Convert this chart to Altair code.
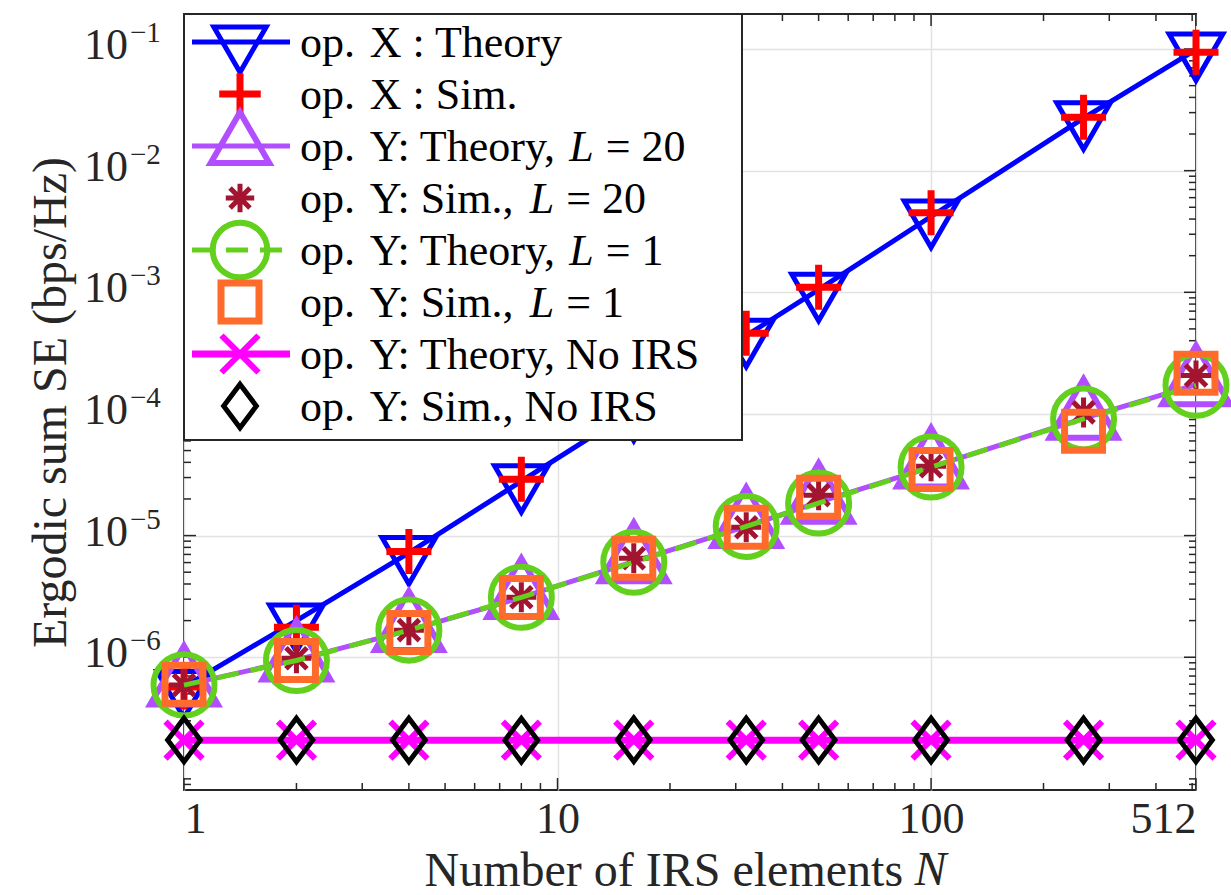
import altair as alt
import pandas as pd

# ---------------- data ----------------
N = [1, 2, 4, 8, 16, 32, 50, 100, 256, 512]

x_theory = [5.7e-7, 2.0e-6, 7.2e-6, 2.8e-5, 1.08e-4, 4.4e-4, 1.05e-3, 4.2e-3, 2.7e-2, 9.9e-2]
x_sim = [5.7e-7, 1.76e-6, 7.4e-6, 2.9e-5, 1.15e-4, 4.6e-4, 1.1e-3, 4.5e-3, 2.75e-2, 9.4e-2]
y20_theory = [5.9e-7, 9.5e-7, 1.66e-6, 3.1e-6, 6.1e-6, 1.19e-5, 1.88e-5, 3.66e-5, 9.2e-5, 1.74e-4]
y20_sim = [5.9e-7, 9.8e-7, 1.67e-6, 3.11e-6, 6.5e-6, 1.17e-5, 2.15e-5, 3.71e-5, 1.03e-4, 2.07e-4]
y1_theory = [5.9e-7, 9.4e-7, 1.67e-6, 3.11e-6, 6.04e-6, 1.19e-5, 1.85e-5, 3.66e-5, 9.1e-5, 1.72e-4]
y1_sim = [6.0e-7, 9.4e-7, 1.6e-6, 3.1e-6, 6.5e-6, 1.17e-5, 2.07e-5, 3.5e-5, 7.2e-5, 2.16e-4]
noirs_theory = [2.08e-7, 2.08e-7, 2.08e-7, 2.08e-7, 2.08e-7, 2.08e-7, 2.08e-7, 2.08e-7, 2.08e-7, 2.08e-7]
noirs_sim = [2.09e-7, 2.09e-7, 2.09e-7, 2.08e-7, 2.1e-7, 2.09e-7, 2.09e-7, 2.09e-7, 2.09e-7, 2.09e-7]

x_tick_labels = [1, 10, 100, 512]
x_minor = [2, 3, 4, 5, 6, 7, 8, 9, 20, 30, 40, 50, 60, 70, 80, 90, 200, 300, 400, 500]
y_decades = [1e-6, 1e-5, 1e-4, 1e-3, 1e-2, 1e-1]
y_exponents = ["\u22126", "\u22125", "\u22124", "\u22123", "\u22122", "\u22121"]
y_minor = [k * 10.0 ** e for e in range(-8, 0) for k in range(1, 10)
           if 8.1e-8 <= k * 10.0 ** e <= 0.194 and not (k == 1 and e >= -6)]

SP = "\u2004"  # spacing after "op."
legend_labels = [
    ("op." + SP + "X : Theory", None, None),
    ("op." + SP + "X : Sim.", None, None),
    ("op." + SP + "Y: Theory, ", "L", "=\u00a020"),
    ("op." + SP + "Y: Sim., ", "L", "=\u00a020"),
    ("op." + SP + "Y: Theory, ", "L", "=\u00a01"),
    ("op." + SP + "Y: Sim., ", "L", "=\u00a01"),
    ("op." + SP + "Y: Theory, No IRS", None, None),
    ("op." + SP + "Y: Sim., No IRS", None, None),
]

# ---------------- styling ----------------
W, H = 1012, 776
FONT = "Liberation Serif"
INK = "#262626"

TRI_DOWN = "M-0.866,-0.5L0.866,-0.5L0,1Z"
TRI_UP = "M0,-1L0.866,0.5L-0.866,0.5Z"
PLUS = "M-1,0L1,0M0,-1L0,1"
STAR = "M-1,0L1,0M0,-1L0,1M-0.7,-0.7L0.7,0.7M-0.7,0.7L0.7,-0.7"
CROSS = "M-1,-1L1,1M-1,1L1,-1"
DIAMOND = "M0,-1L0.75,0L0,1L-0.75,0Z"

# (values, colour, line width or None, dash, marker shape, marker size, marker stroke, legend scale)
series = [
    (x_theory, "#0000FF", 5, None, TRI_DOWN, 3844, 5, 0.95),
    (x_sim, "#FF0000", None, None, PLUS, 2025, 7, 0.85),
    (y20_theory, "#B14EFF", 5, None, TRI_UP, 6084, 6, 0.75),
    (y20_sim, "#A2142F", None, None, STAR, 900, 5, 0.9),
    (y1_theory, "#62D01C", 5, [22, 12], "circle", 3721, 6, 0.8),
    (y1_sim, "#FF6B2B", None, None, "square", 1444, 7, 1.0),
    (noirs_theory, "#FF00FF", 7, None, CROSS, 1369, 6, 1.0),
    (noirs_sim, "#000000", None, None, DIAMOND, 1900, 5, 1.0),
]

x_scale = alt.Scale(type="log", domain=[1, 512], nice=False)
y_scale = alt.Scale(type="log", domain=[8.1e-8, 0.194], nice=False)

TITLE_X0 = 240
x_axis = alt.Axis(
    values=x_tick_labels,
    labelExpr="format(datum.value, 'd')",
    grid=True,
    title="Number of IRS elements",
    titleX=TITLE_X0,
    titleY=95,
    titleAlign="left",
    titleBaseline="alphabetic",
    labelPadding=7,
)
y_axis = alt.Axis(
    values=y_decades,
    labels=False,
    grid=True,
    title="Ergodic sum SE (bps/Hz)",
    titleX=-109,
    titleY=H / 2,
    titleAngle=270,
    titleAlign="center",
    titleBaseline="bottom",
)


def X(field):
    return alt.X(field, type="quantitative", scale=x_scale, axis=x_axis)


def Y(field):
    return alt.Y(field, type="quantitative", scale=y_scale, axis=y_axis)


layers = []

# inward ticks on all four sides
xt_major = pd.DataFrame({"t": x_tick_labels})
xt_minor = pd.DataFrame({"t": x_minor})
yt_major = pd.DataFrame({"t": y_decades})
yt_minor = pd.DataFrame({"t": y_minor})
for df, ln in [(xt_major, 12), (xt_minor, 7)]:
    layers.append(alt.Chart(df).mark_rule(color=INK, strokeWidth=1.5).encode(
        x=X("t"), y=alt.value(H), y2=alt.value(H - ln)))
    layers.append(alt.Chart(df).mark_rule(color=INK, strokeWidth=1.5).encode(
        x=X("t"), y=alt.value(0), y2=alt.value(ln)))
for df, ln in [(yt_major, 12), (yt_minor, 7)]:
    layers.append(alt.Chart(df).mark_rule(color=INK, strokeWidth=1.5).encode(
        y=Y("t"), x=alt.value(0), x2=alt.value(ln)))
    layers.append(alt.Chart(df).mark_rule(color=INK, strokeWidth=1.5).encode(
        y=Y("t"), x=alt.value(W), x2=alt.value(W - ln)))

# y tick labels: 10 with a raised exponent
ylab = pd.DataFrame({"v": y_decades, "base": ["10"] * len(y_decades), "exp": y_exponents})
layers.append(alt.Chart(ylab).mark_text(
    align="right", baseline="alphabetic", dy=10, font=FONT, fontSize=44, color=INK
).encode(x=alt.value(-56), y=Y("v"), text="base:N"))
layers.append(alt.Chart(ylab).mark_text(
    align="left", baseline="alphabetic", dy=-7, font=FONT, fontSize=29, color=INK
).encode(x=alt.value(-54), y=Y("v"), text="exp:N"))

# italic N closing the x-axis title
one = pd.DataFrame({"k": [0]})
layers.append(alt.Chart(one).mark_text(
    align="left", baseline="alphabetic", font=FONT, fontSize=48, fontStyle="italic", color=INK
).encode(x=alt.value(TITLE_X0 + (9.971 + 0.25) * 48), y=alt.value(H + 95), text=alt.value("N")))

# curves and markers
for vals, col, lw, dash, shape, size, sw, _ in series:
    df = pd.DataFrame({"N": N, "SE": vals})
    if lw:
        kw = dict(color=col, strokeWidth=lw)
        if dash:
            kw["strokeDash"] = dash
        layers.append(alt.Chart(df).mark_line(**kw).encode(x=X("N"), y=Y("SE")))
    layers.append(alt.Chart(df).mark_point(
        shape=shape, size=size, filled=False, color=col, strokeWidth=sw, opacity=1
    ).encode(x=X("N"), y=Y("SE")))

# legend box
LW, LH = 558, 426
layers.append(alt.Chart(one).mark_rect(fill="white", stroke=INK, strokeWidth=2).encode(
    x=alt.value(0), x2=alt.value(LW), y=alt.value(0), y2=alt.value(LH)))

LFS = 44
prefix_w = {"op." + SP + "Y: Theory, ": 6.12, "op." + SP + "Y: Sim., ": 5.22}
for i, ((lab, ital, tail), (vals, col, lw, dash, shape, size, sw, lsc)) in enumerate(zip(legend_labels, series)):
    ry = 28 + 52 * i
    if lw:
        kw = dict(color=col, strokeWidth=lw)
        if dash:
            kw["strokeDash"] = dash
        layers.append(alt.Chart(one).mark_rule(**kw).encode(
            x=alt.value(8), x2=alt.value(106), y=alt.value(ry)))
    layers.append(alt.Chart(one).mark_point(
        shape=shape, size=size * lsc, filled=False, color=col, strokeWidth=sw, opacity=1
    ).encode(x=alt.value(56), y=alt.value(ry)))
    layers.append(alt.Chart(one).mark_text(
        align="left", baseline="middle", font=FONT, fontSize=LFS, color="black"
    ).encode(x=alt.value(116), y=alt.value(ry + 2), text=alt.value(lab)))
    if ital:
        lx = 116 + prefix_w[lab] * LFS
        layers.append(alt.Chart(one).mark_text(
            align="left", baseline="middle", font=FONT, fontSize=LFS, fontStyle="italic", color="black"
        ).encode(x=alt.value(lx), y=alt.value(ry + 2), text=alt.value(ital)))
        layers.append(alt.Chart(one).mark_text(
            align="left", baseline="middle", font=FONT, fontSize=LFS, color="black"
        ).encode(x=alt.value(lx + 0.556 * LFS + 12), y=alt.value(ry + 2), text=alt.value(tail)))

chart = alt.layer(*layers).properties(
    width=W,
    height=H,
    autosize=alt.AutoSizeParams(type="none"),
    padding={"left": 184, "top": 14, "right": 35, "bottom": 105},
).configure_view(
    stroke=INK, strokeWidth=2
).configure_axis(
    domain=False,
    ticks=False,
    gridColor="#e2e2e2",
    gridWidth=1.5,
    labelFont=FONT,
    labelFontSize=44,
    labelColor=INK,
    titleFont=FONT,
    titleFontSize=48,
    titleFontWeight="normal",
    titleColor=INK,
)

chart.save("out.html", embed_options={"renderer": "svg", "actions": False})
